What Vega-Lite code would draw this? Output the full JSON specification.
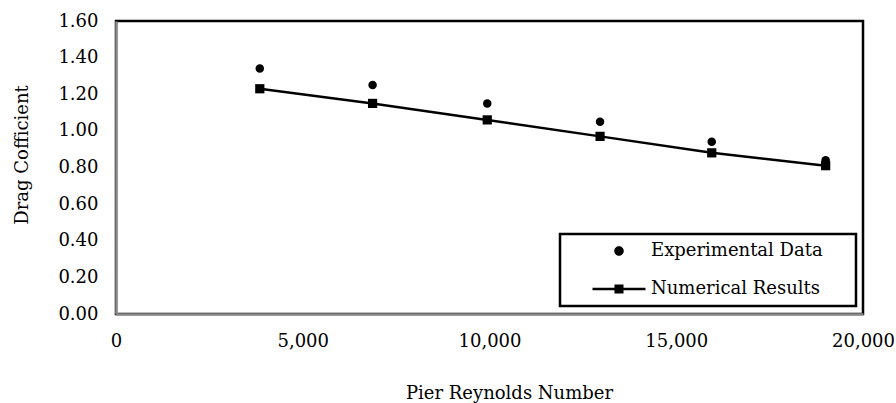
{
  "$schema": "https://vega.github.io/schema/vega-lite/v6.json",
  "width": 747,
  "height": 293,
  "autosize": {"type": "none"},
  "padding": {"left": 116, "top": 21, "right": 33, "bottom": 89},
  "background": "white",
  "config": {
    "view": {"stroke": "black", "strokeWidth": 2.5},
    "font": "DejaVu Serif",
    "axis": {
      "labelFont": "DejaVu Serif",
      "labelFontSize": 18,
      "labelColor": "black",
      "titleFont": "DejaVu Serif",
      "titleFontSize": 18,
      "titleFontWeight": "normal",
      "titleColor": "black",
      "ticks": false,
      "grid": false,
      "domainColor": "#8c8c8c",
      "domainWidth": 2.5,
      "labelFlush": false,
      "labelBound": false,
      "labelOverlap": false,
      "zindex": 1
    },
    "legend": {
      "strokeWidth": 2.5,
      "title": null,
      "orient": "none",
      "legendX": 444,
      "legendY": 213,
      "padding": 8,
      "rowPadding": 20,
      "symbolSize": 324,
      "symbolStrokeWidth": 0,
      "symbolOffset": 42,
      "symbolOpacity": 1,
      "labelOffset": 23,
      "labelFont": "DejaVu Serif",
      "labelFontSize": 18,
      "labelColor": "black",
      "labelLimit": 400,
      "strokeColor": "black",
      "fillColor": "white"
    }
  },
  "data": {
    "values": [
      {"series": "Experimental Data", "re": 3850, "cd": 1.34},
      {"series": "Experimental Data", "re": 6870, "cd": 1.25},
      {"series": "Experimental Data", "re": 9940, "cd": 1.15},
      {"series": "Experimental Data", "re": 12960, "cd": 1.05},
      {"series": "Experimental Data", "re": 15950, "cd": 0.94},
      {"series": "Experimental Data", "re": 19000, "cd": 0.84},
      {"series": "Numerical Results", "re": 3850, "cd": 1.23},
      {"series": "Numerical Results", "re": 6870, "cd": 1.15},
      {"series": "Numerical Results", "re": 9940, "cd": 1.06},
      {"series": "Numerical Results", "re": 12960, "cd": 0.97},
      {"series": "Numerical Results", "re": 15950, "cd": 0.88},
      {"series": "Numerical Results", "re": 19000, "cd": 0.81}
    ]
  },
  "encoding": {
    "x": {
      "field": "re",
      "type": "quantitative",
      "scale": {"domain": [0, 20000], "nice": false},
      "axis": {
        "title": "Pier Reynolds Number",
        "values": [0, 5000, 10000, 15000, 20000],
        "format": ",.0f",
        "labelPadding": 18,
        "titleBaseline": "alphabetic",
        "titleAlign": "center",
        "titleX": 393,
        "titleY": 84
      }
    },
    "y": {
      "field": "cd",
      "type": "quantitative",
      "scale": {"domain": [0, 1.6], "nice": false},
      "axis": {
        "title": "Drag Cofficient",
        "values": [0, 0.2, 0.4, 0.6, 0.8, 1.0, 1.2, 1.4, 1.6],
        "format": ".2f",
        "labelPadding": 18,
        "titleAngle": -90,
        "titleBaseline": "alphabetic",
        "titleAlign": "center",
        "titleX": -89,
        "titleY": 133.5
      }
    }
  },
  "layer": [
    {
      "transform": [{"filter": "datum.series === 'Numerical Results'"}],
      "mark": {"type": "line", "color": "black", "strokeWidth": 2.5}
    },
    {
      "transform": [{"filter": "datum.series === 'Experimental Data'"}],
      "mark": {"type": "point", "shape": "circle", "filled": true, "opacity": 1, "size": 72},
      "encoding": {
        "color": {
          "field": "series",
          "type": "nominal",
          "scale": {
            "domain": ["Experimental Data", "Numerical Results"],
            "range": ["black", "black"]
          },
          "legend": {
            "encode": {
              "symbols": {
                "update": {
                  "shape": {"signal": "datum.value === 'Numerical Results' ? 'M25.44,0L25.44,0M-2.944,-0.139H2.944V0.139H-2.944ZM-0.5,-0.5H0.5V0.5H-0.5Z' : 'M25.44,0L25.44,0M0.528,0A0.528,0.528,0,1,1,-0.528,0A0.528,0.528,0,1,1,0.528,0Z'"},
                  "size": {"value": 324},
                  "strokeWidth": {"value": 0}
                }
              }
            }
          }
        }
      }
    },
    {
      "transform": [{"filter": "datum.series === 'Numerical Results'"}],
      "mark": {"type": "point", "shape": "square", "filled": true, "opacity": 1, "size": 85},
      "encoding": {
        "color": {
          "field": "series",
          "type": "nominal",
          "scale": {
            "domain": ["Experimental Data", "Numerical Results"],
            "range": ["black", "black"]
          },
          "legend": {
            "encode": {
              "symbols": {
                "update": {
                  "shape": {"signal": "datum.value === 'Numerical Results' ? 'M25.44,0L25.44,0M-2.944,-0.139H2.944V0.139H-2.944ZM-0.5,-0.5H0.5V0.5H-0.5Z' : 'M25.44,0L25.44,0M0.528,0A0.528,0.528,0,1,1,-0.528,0A0.528,0.528,0,1,1,0.528,0Z'"},
                  "size": {"value": 324},
                  "strokeWidth": {"value": 0}
                }
              }
            }
          }
        }
      }
    }
  ]
}
